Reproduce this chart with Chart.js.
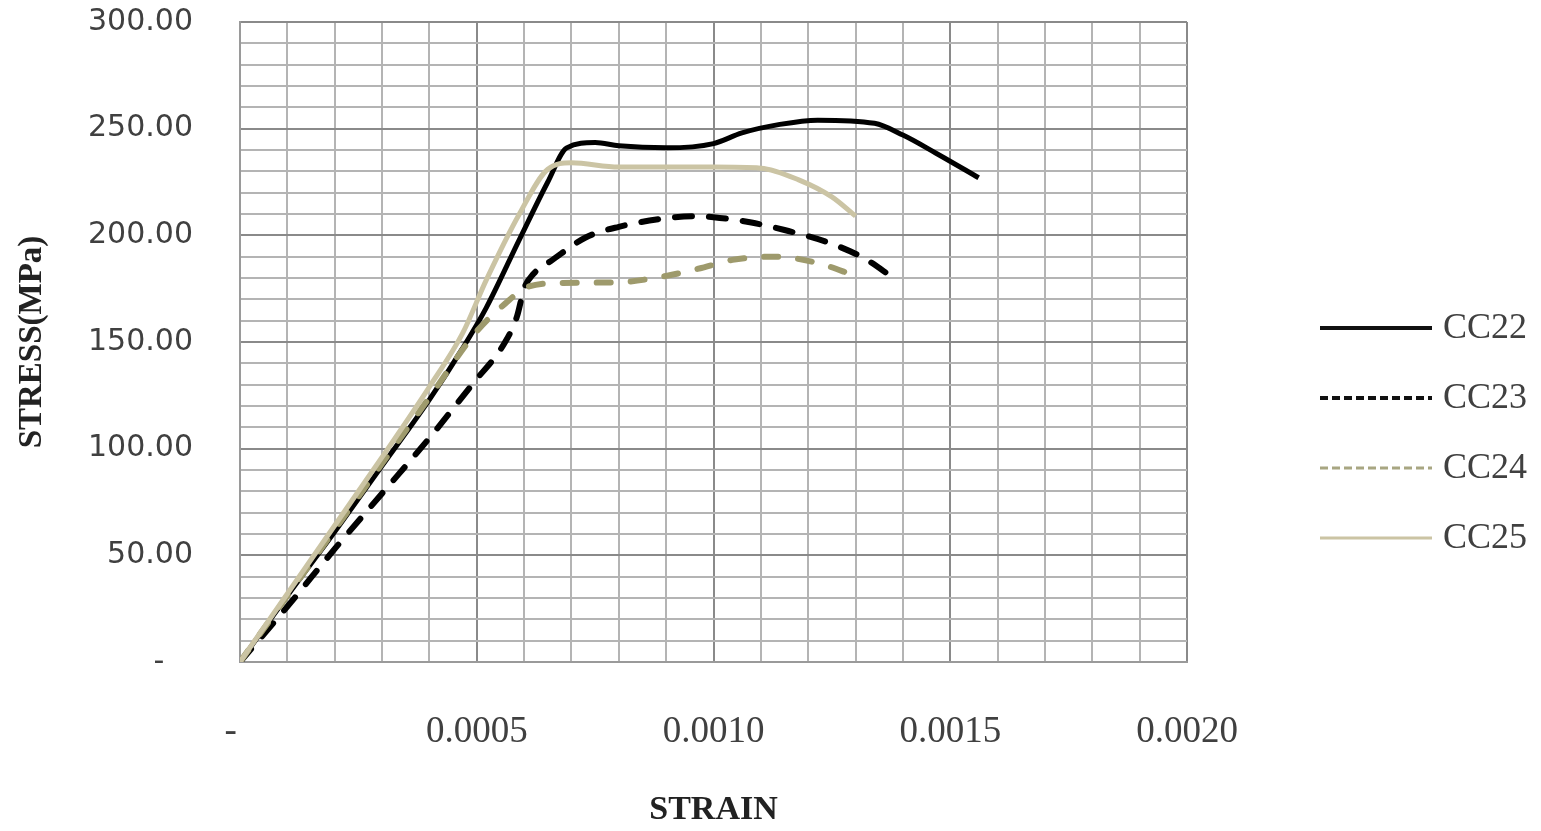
<!DOCTYPE html>
<html lang="en">
<head>
    <meta charset="UTF-8">
    <title>Stress-Strain</title>
    <script src="https://cdn.jsdelivr.net/npm/chart.js"></script>
    <style>
        html, body { margin: 0; padding: 0; background: #ffffff; }
        .chart-wrap { width: 1541px; height: 831px; }
    </style>
</head>
<body>
    <div class="chart-wrap">
        <canvas id="chart"></canvas>
    </div>

    <script>
        // Data
        const seriesNames = ['CC22', 'CC23', 'CC24', 'CC25'];

        const strainCC22 = [0, 0.0001, 0.0002, 0.0003, 0.0004, 0.00047, 0.00052, 0.00059, 0.00065, 0.00069, 0.00075, 0.0008, 0.0009, 0.001, 0.00106, 0.00114, 0.00122, 0.00134, 0.0014, 0.00147, 0.00156];
        const stressCC22 = [0, 31, 61, 92, 123, 147, 166, 198, 225, 241, 243.5, 242, 241, 243, 248, 252, 254, 252.5, 247, 238.5, 227];

        const strainCC23 = [0, 0.0001, 0.0002, 0.0003, 0.0004, 0.00049, 0.00056, 0.000585, 0.0006, 0.00062, 0.00066, 0.00073, 0.0008, 0.0009, 0.00096, 0.001, 0.00108, 0.00115, 0.00125, 0.00132, 0.00138];
        const stressCC23 = [0, 26, 53, 79, 105, 130, 150, 162, 175, 182, 188.5, 199, 204, 208, 209, 208.5, 206, 202.5, 196, 189, 180];

        const strainCC24 = [0, 0.0001, 0.0002, 0.0003, 0.0004, 0.0005, 0.00056, 0.00061, 0.00068, 0.0008, 0.0009, 0.00098, 0.00104, 0.00113, 0.00122, 0.0013];
        const stressCC24 = [0, 31, 62, 93, 124, 155, 168, 176, 177.7, 178, 181, 185, 188.5, 190, 187, 181];

        const strainCC25 = [0, 0.0001, 0.0002, 0.0003, 0.0004, 0.00047, 0.00052, 0.00059, 0.00065, 0.0007, 0.0008, 0.0009, 0.001, 0.0011, 0.00118, 0.00125, 0.0013];
        const stressCC25 = [0, 32, 64, 96, 129, 154, 179, 210, 231, 234, 232, 232, 232, 231.5, 226, 218, 209];

        const toPoints = (xs, ys) => xs.map((x, i) => ({ x: x, y: ys[i] }));

        const textColor = '#404040';

        // legend sample styles (plot lines use their own dash)
        const legendStyles = [
            { color: '#111111', width: 4, dash: [] },
            { color: '#111111', width: 4, dash: [8, 4] },
            { color: '#a8a682', width: 3, dash: [8, 4] },
            { color: '#cbc4a4', width: 3, dash: [] }
        ];

        const sideLegend = {
            id: 'sideLegend',
            afterDraw(chart) {
                const ctx = chart.ctx;
                const x0 = 1320, x1 = 1432, textX = 1443;
                const firstY = 328, gap = 70;
                ctx.save();
                chart.data.datasets.forEach((ds, i) => {
                    const st = legendStyles[i];
                    const y = firstY + i * gap;
                    ctx.beginPath();
                    ctx.setLineDash(st.dash);
                    ctx.lineWidth = st.width;
                    ctx.strokeStyle = st.color;
                    ctx.moveTo(x0, y);
                    ctx.lineTo(x1, y);
                    ctx.stroke();
                    ctx.setLineDash([]);
                    ctx.fillStyle = textColor;
                    ctx.font = '36px "Liberation Serif", serif';
                    ctx.textBaseline = 'middle';
                    ctx.textAlign = 'left';
                    ctx.fillText(ds.label, textX, y + 1);
                });
                ctx.restore();
            }
        };

        const xGrid = ctx => (Math.round(ctx.tick.value / 0.0001) % 5 === 0) ? '#8a8a8a' : '#b4b4b4';
        const yGrid = ctx => (Math.round(ctx.tick.value) % 50 === 0) ? '#8a8a8a' : '#b4b4b4';

        new Chart(document.getElementById('chart'), {
            type: 'scatter',
            data: {
                datasets: [
                    {
                        label: seriesNames[0],
                        data: toPoints(strainCC22, stressCC22),
                        borderColor: '#000000',
                        borderWidth: 5,
                        order: 4
                    },
                    {
                        label: seriesNames[1],
                        data: toPoints(strainCC23, stressCC23),
                        borderColor: '#000000',
                        borderWidth: 6,
                        borderDash: [17, 17],
                        borderCapStyle: 'round',
                        order: 3
                    },
                    {
                        label: seriesNames[2],
                        data: toPoints(strainCC24, stressCC24),
                        borderColor: '#9e9a6c',
                        borderWidth: 6,
                        borderDash: [14, 20],
                        borderCapStyle: 'round',
                        order: 2
                    },
                    {
                        label: seriesNames[3],
                        data: toPoints(strainCC25, stressCC25),
                        borderColor: '#cbc4a4',
                        borderWidth: 5,
                        order: 1
                    }
                ]
            },
            options: {
                responsive: true,
                maintainAspectRatio: false,
                animation: false,
                showLine: true,
                layout: { padding: { top: 22, right: 354, left: 0, bottom: 0 } },
                elements: {
                    point: { radius: 0, hoverRadius: 0 },
                    line: { cubicInterpolationMode: 'monotone', fill: false }
                },
                plugins: {
                    legend: { display: false },
                    tooltip: { enabled: false }
                },
                scales: {
                    x: {
                        type: 'linear',
                        min: 0,
                        max: 0.002,
                        afterFit: scale => {
                            scale.height = 169;
                            scale.paddingLeft = 0;
                            scale.paddingRight = 0;
                        },
                        border: { color: '#9a9a9a', width: 2 },
                        grid: { color: xGrid, lineWidth: 2, drawTicks: false },
                        ticks: {
                            stepSize: 0.0001,
                            autoSkip: false,
                            maxRotation: 0,
                            padding: 48,
                            color: textColor,
                            font: { family: '"Liberation Serif", serif', size: 37 },
                            callback: v => {
                                const k = Math.round(v / 0.0001);
                                if (k % 5 !== 0) return '';
                                return k === 0 ? '-  ' : (k * 0.0001).toFixed(4);
                            }
                        },
                        title: {
                            display: true,
                            text: 'STRAIN',
                            color: '#222222',
                            padding: { top: 0, bottom: 0 },
                            font: { family: '"Liberation Serif", serif', size: 34, weight: 'bold' }
                        }
                    },
                    y: {
                        min: 0,
                        max: 300,
                        afterFit: scale => {
                            scale.width = 240;
                            scale.paddingTop = 0;
                            scale.paddingBottom = 0;
                        },
                        border: { color: '#9a9a9a', width: 2 },
                        grid: { color: yGrid, lineWidth: 2, drawTicks: false },
                        ticks: {
                            stepSize: 10,
                            autoSkip: false,
                            padding: 47,
                            color: textColor,
                            font: { family: '"DejaVu Sans", sans-serif', size: 30 },
                            callback: v => {
                                const r = Math.round(v);
                                if (r % 50 !== 0) return '';
                                return r === 0 ? '-   ' : r.toFixed(2);
                            }
                        },
                        title: {
                            display: true,
                            text: 'STRESS(MPa)',
                            color: '#222222',
                            padding: { top: 13, bottom: 0 },
                            font: { family: '"Liberation Serif", serif', size: 33, weight: 'bold' }
                        }
                    }
                }
            },
            plugins: [sideLegend]
        });
    </script>
</body>
</html>
